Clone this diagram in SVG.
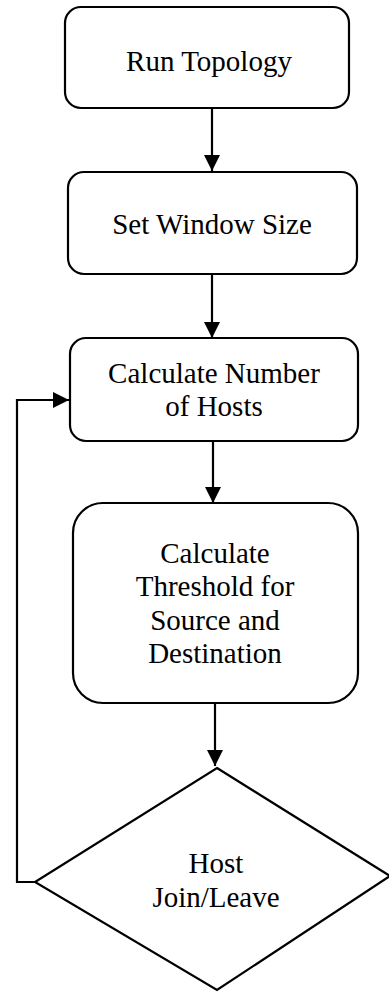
<svg xmlns="http://www.w3.org/2000/svg" width="389" height="992" viewBox="0 0 389 992">
<style>
.box{fill:#fff;stroke:#000;stroke-width:2.2}
.t{font-family:"Liberation Serif","Times New Roman",serif;font-size:29px;fill:#000;text-anchor:middle}
.c{fill:none;stroke:#000;stroke-width:2.2}
</style>
<defs>
<marker id="ah" viewBox="0 0 16 16" refX="16" refY="8" markerWidth="16" markerHeight="16" markerUnits="userSpaceOnUse" orient="auto">
<path d="M0,0 L16,8 L0,16 Z" fill="#000"/>
</marker>
</defs>
<g id="connectors">
<line class="c" x1="212" y1="108" x2="212" y2="171" marker-end="url(#ah)"/>
<line class="c" x1="212" y1="274" x2="212" y2="338" marker-end="url(#ah)"/>
<line class="c" x1="213" y1="441" x2="213" y2="503" marker-end="url(#ah)"/>
<line class="c" x1="215" y1="703" x2="215" y2="766" marker-end="url(#ah)"/>
<polyline class="c" points="35,882 17,882 17,400 69,400" marker-end="url(#ah)"/>
</g>
<g id="n1">
<rect class="box" x="65" y="7" width="284" height="101" rx="16"/>
<text class="t" x="209" y="71">Run Topology</text>
</g>
<g id="n2">
<rect class="box" x="68" y="172" width="289" height="102" rx="16"/>
<text class="t" x="212" y="234">Set Window Size</text>
</g>
<g id="n3">
<rect class="box" x="70" y="338" width="288" height="103" rx="16"/>
<text class="t" x="214" y="383">Calculate Number</text>
<text class="t" x="214" y="416">of Hosts</text>
</g>
<g id="n4">
<rect class="box" x="73" y="503" width="285" height="200" rx="30"/>
<text class="t" x="215" y="563">Calculate</text>
<text class="t" x="215" y="596">Threshold for</text>
<text class="t" x="215" y="630">Source and</text>
<text class="t" x="215" y="663">Destination</text>
</g>
<g id="n5">
<polygon class="box" points="217,768 390,876 217,990 35,882"/>
<text class="t" x="216" y="873">Host</text>
<text class="t" x="216" y="907">Join/Leave</text>
</g>
</svg>
